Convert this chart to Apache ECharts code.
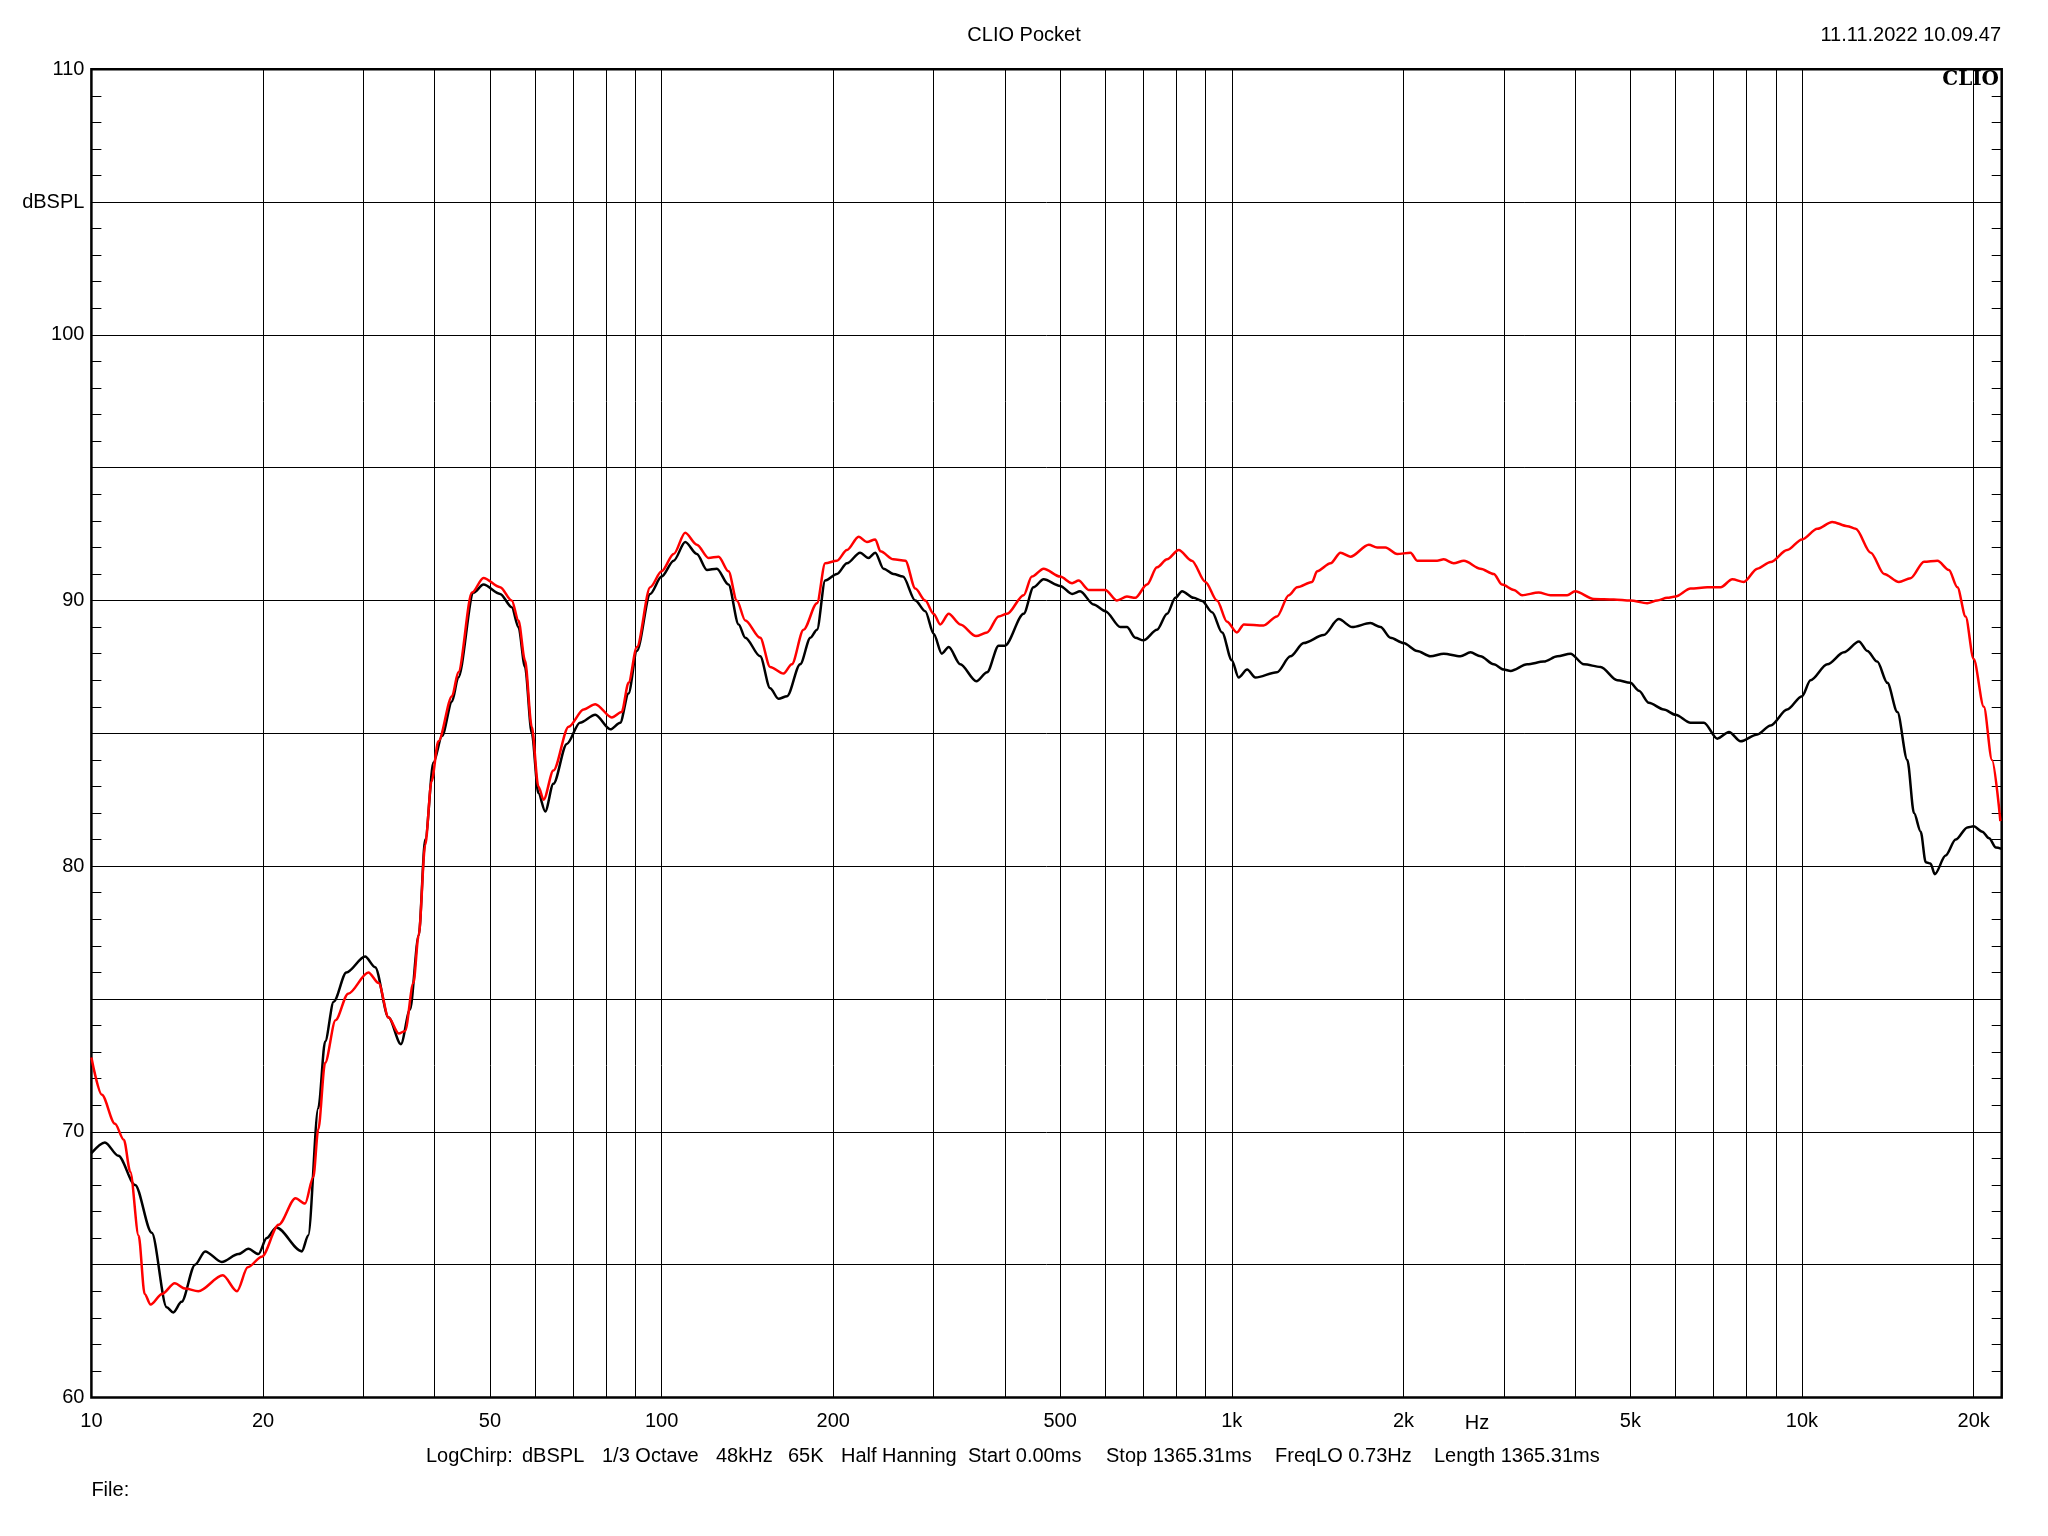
<!DOCTYPE html>
<html><head><meta charset="utf-8">
<script src="https://cdn.jsdelivr.net/npm/echarts@6/dist/echarts.min.js"></script>
<style>html,body{margin:0;padding:0;background:#fff}#c{width:2048px;height:1536px}</style>
</head><body><div id="c"></div>
<script>
// ---- data ----
const blackFreq = [10,10.56,11.15,11.93,12.76,13.55,13.92,14.39,15.2,15.83,16.93,18.11,18.85,19.63,20.3,21.1,23.4,24.0,25.0,25.7,26.6,28.0,30.2,31.45,33.2,34.9,36.2,37.5,38.5,39.8,41.2,42.9,44.0,46.8,48.7,52.1,54.6,56.1,57.6,59.2,60.8,62.5,64.6,68.2,71.9,76.5,81.3,84.6,87.5,90.5,95.5,100,105,110,115.3,120.1,125,131,136.5,140.2,148.9,155,160.3,166,175,182.4,187.3,193.6,203,211.4,222.9,230.5,237,245,255,265,278.6,290,300,310,318.8,334,356.5,372.3,390,400,431.5,449,467.7,500,524.8,542,572.5,600,637.7,654.8,677.2,700,739.3,770,796.2,818,857,887,923.5,961.5,1000,1028,1064,1100,1200,1267,1337,1449,1540,1626,1750,1823,1898,2000,2114,2230,2354,2517,2622,2730,2880,3000,3083,3297,3526,3724,3927,4145,4434,4743,5000,5176,5388,5724,6000,6376,6730,7103,7447,7805,8350,8810,9420,10000,10350,11080,11845,12585,13020,13550,14115,14700,15300,15720,16150,16480,16800,17100,17860,18600,19500,20000,20715,21290,21880,22390];
const blackDb = [69.2,69.6,69.1,68.0,66.2,63.4,63.2,63.6,65.0,65.5,65.1,65.4,65.6,65.4,66.0,66.4,65.5,66.1,70.9,73.4,74.9,76.0,76.6,76.2,74.3,73.3,74.6,77.4,81.0,83.9,84.9,86.2,87.1,90.3,90.6,90.25,89.75,89.0,87.5,85.0,82.75,82.06,83.1,84.6,85.4,85.7,85.15,85.4,86.5,88.1,90.25,90.9,91.5,92.2,91.75,91.15,91.2,90.6,89.1,88.6,87.9,86.7,86.3,86.4,87.6,88.6,88.9,90.75,91.0,91.4,91.8,91.6,91.8,91.2,91.0,90.9,90.0,89.6,88.75,88.0,88.25,87.6,86.96,87.3,88.3,88.3,89.5,90.5,90.8,90.55,90.25,90.35,89.85,89.6,89.0,89.0,88.6,88.5,88.9,89.5,90.1,90.35,90.1,89.98,89.56,88.8,87.75,87.1,87.4,87.1,87.3,87.9,88.4,88.7,89.3,89.0,89.15,89.0,88.6,88.4,88.1,87.9,88.0,87.9,88.05,87.9,87.6,87.4,87.35,87.6,87.7,87.9,88.0,87.6,87.5,87.0,86.9,86.6,86.15,85.9,85.7,85.4,85.4,84.8,85.05,84.7,84.96,85.3,85.9,86.4,87.0,87.6,88.05,88.46,88.1,87.7,86.9,85.8,84.0,82.0,81.3,80.15,80.1,79.7,80.4,81.0,81.46,81.5,81.3,81.05,80.7,80.65];
const redFreq = [10,10.43,11.0,11.4,11.7,12.1,12.4,12.7,13.3,14.0,14.6,15.4,17.0,18.0,18.8,19.9,21.3,22.8,23.7,24.5,25.0,25.7,26.8,28.2,30.6,31.9,33.2,34.6,35.5,36.7,37.5,38.5,39.5,40.6,42.9,44.0,46.5,48.7,52.1,54.6,56.1,57.6,59.2,60.8,62.1,64.6,68.7,73.0,76.5,81.8,85.1,87.5,90.5,95.5,100,105,110,115.3,120.9,125.9,131,135.5,140.2,148.9,155,163.6,169.2,177.4,187.3,193.6,203,211.4,221.6,229.1,237,242,255,267.6,278.6,290,300,308,318.8,334,356,372.3,390,403.5,431.5,446,467.7,500,524.8,538.8,561,600,629,654.8,677.2,710,739.3,770,807,851,899,942,981,1021,1050,1137,1200,1259,1302,1383,1411,1490,1551,1614,1739,1798,1860,1950,2058,2114,2291,2354,2450,2553,2730,2880,2980,3124,3229,3453,3622,3874,4000,4315,4677,5000,5353,5573,5803,6000,6376,6823,7200,7547,7906,8350,8810,9420,10000,10640,11300,12010,12420,13200,13930,14790,15500,16370,17280,18100,18730,19360,20000,20840,21540,22280];
const redDb = [72.8,71.4,70.3,69.7,68.5,66.1,63.9,63.5,63.9,64.3,64.1,64.0,64.6,64.0,64.9,65.3,66.5,67.5,67.3,68.3,70.1,72.6,74.2,75.2,76.0,75.6,74.3,73.7,73.8,75.6,77.4,80.8,83.2,84.7,86.4,87.3,90.3,90.85,90.5,90.0,89.25,87.75,85.25,83.0,82.5,83.6,85.25,85.9,86.1,85.6,85.8,86.9,88.25,90.5,91.1,91.75,92.55,92.1,91.6,91.65,91.1,90.0,89.25,88.6,87.5,87.25,87.6,88.9,89.9,91.4,91.5,91.9,92.4,92.2,92.3,91.85,91.55,91.5,90.45,90.0,89.5,89.1,89.5,89.1,88.66,88.8,89.4,89.5,90.2,90.9,91.2,90.9,90.65,90.75,90.4,90.4,90.0,90.15,90.1,90.6,91.25,91.55,91.9,91.5,90.7,90.0,89.2,88.8,89.1,89.06,89.4,90.2,90.5,90.7,91.1,91.4,91.8,91.65,92.1,92.0,92.0,91.75,91.8,91.5,91.5,91.55,91.4,91.5,91.2,91.0,90.6,90.4,90.2,90.3,90.2,90.2,90.35,90.06,90.04,90.0,89.9,90.0,90.1,90.15,90.45,90.5,90.5,90.8,90.7,91.2,91.45,91.9,92.3,92.7,92.96,92.8,92.7,91.8,91.0,90.7,90.84,91.46,91.5,91.15,90.5,89.4,87.8,86.0,84.0,81.7];

const gridFreqs = [20,30,40,50,60,70,80,90,100,200,300,400,500,600,700,800,900,1000,2000,3000,4000,5000,6000,7000,8000,9000,10000,20000];
const labelFreqs = [10,20,50,100,200,500,1000,2000,5000,10000,20000];
const labelTexts = ['10','20','50','100','200','500','1k','2k','5k','10k','20k'];
const yLabelValues = [60,70,80,90,100,110];
const yUnitValue = 105;
const yUnitText = 'dBSPL';
const fMin = 10, fMax = 22400;

const FONT = '"Liberation Sans", Arial, sans-serif';
const lg = Math.log10;

function xLabel(v) {
  for (let i = 0; i < labelFreqs.length; i++) {
    if (Math.abs(lg(labelFreqs[i]) - v) < 1e-6) return labelTexts[i];
  }
  return '';
}
function yLabel(v) {
  if (Math.abs(v - yUnitValue) < 1e-6) return yUnitText;
  return yLabelValues.indexOf(Math.round(v)) >= 0 ? String(Math.round(v)) : '';
}

const chart = echarts.init(document.getElementById('c'), null, {renderer: 'canvas'});
const yBase = {
  type: 'value', min: 60, max: 110, interval: 5,
  axisLine: {show: false},
  axisTick: {show: true, inside: true, length: 10, lineStyle: {color: '#000', width: 1}},
  minorTick: {show: true, splitNumber: 5, length: 10, lineStyle: {color: '#000', width: 1}}
};
const T = (x, y, text, align) => ({type: 'text', x: x, y: y,
  style: {text: text, font: '20px ' + FONT, fill: '#000', textAlign: align, textVerticalAlign: 'middle'}});
chart.setOption({
  animation: false,
  backgroundColor: '#fff',
  grid: {left: 91.4, right: 46.3, top: 69.2, bottom: 138.5, show: true, borderColor: '#000', borderWidth: 2.5, backgroundColor: 'transparent'},
  xAxis: {
    type: 'value', min: lg(fMin), max: lg(fMax),
    axisLine: {show: false},
    axisTick: {show: false, customValues: gridFreqs.map(lg)},
    axisLabel: {customValues: labelFreqs.map(lg), formatter: xLabel, color: '#000', fontSize: 20, fontFamily: FONT, margin: 14},
    splitLine: {show: true, lineStyle: {color: '#000', width: 1}}
  },
  yAxis: [
    Object.assign({}, yBase, {
      position: 'left',
      axisLabel: {formatter: yLabel, color: '#000', fontSize: 20, fontFamily: FONT, margin: 7},
      splitLine: {show: true, lineStyle: {color: '#000', width: 1}}
    }),
    Object.assign({}, yBase, {
      position: 'right',
      axisLabel: {show: false},
      splitLine: {show: false}
    })
  ],
  series: [
    {type: 'line', name: 'black', yAxisIndex: 0, symbol: 'none', smooth: 0.3, smoothMonotone: 'x',
     lineStyle: {color: '#000', width: 2.5}, data: blackFreq.map((f, i) => [lg(f), blackDb[i]])},
    {type: 'line', name: 'red', yAxisIndex: 0, symbol: 'none', smooth: 0.3, smoothMonotone: 'x',
     lineStyle: {color: '#ff0000', width: 2.5}, data: redFreq.map((f, i) => [lg(f), redDb[i]])}
  ],
  graphic: [
    T(1024, 35.5, 'CLIO Pocket', 'center'),
    T(2001, 35.5, '11.11.2022 10.09.47', 'right'),
    {type: 'text', x: 1999, y: 80, z: 100, style: {text: 'CLIO', font: 'bold 20px "DejaVu Serif", serif', fill: '#000', textAlign: 'right', textVerticalAlign: 'middle'}},
    T(1477, 1423, 'Hz', 'center'),
    T(426, 1456.5, 'LogChirp:', 'left'),
    T(522, 1456.5, 'dBSPL', 'left'),
    T(602, 1456.5, '1/3 Octave', 'left'),
    T(716, 1456.5, '48kHz', 'left'),
    T(788, 1456.5, '65K', 'left'),
    T(841, 1456.5, 'Half Hanning', 'left'),
    T(968, 1456.5, 'Start 0.00ms', 'left'),
    T(1106, 1456.5, 'Stop 1365.31ms', 'left'),
    T(1275, 1456.5, 'FreqLO 0.73Hz', 'left'),
    T(1434, 1456.5, 'Length 1365.31ms', 'left'),
    T(91.4, 1490.5, 'File:', 'left')
  ]
});
</script>
</body></html>
